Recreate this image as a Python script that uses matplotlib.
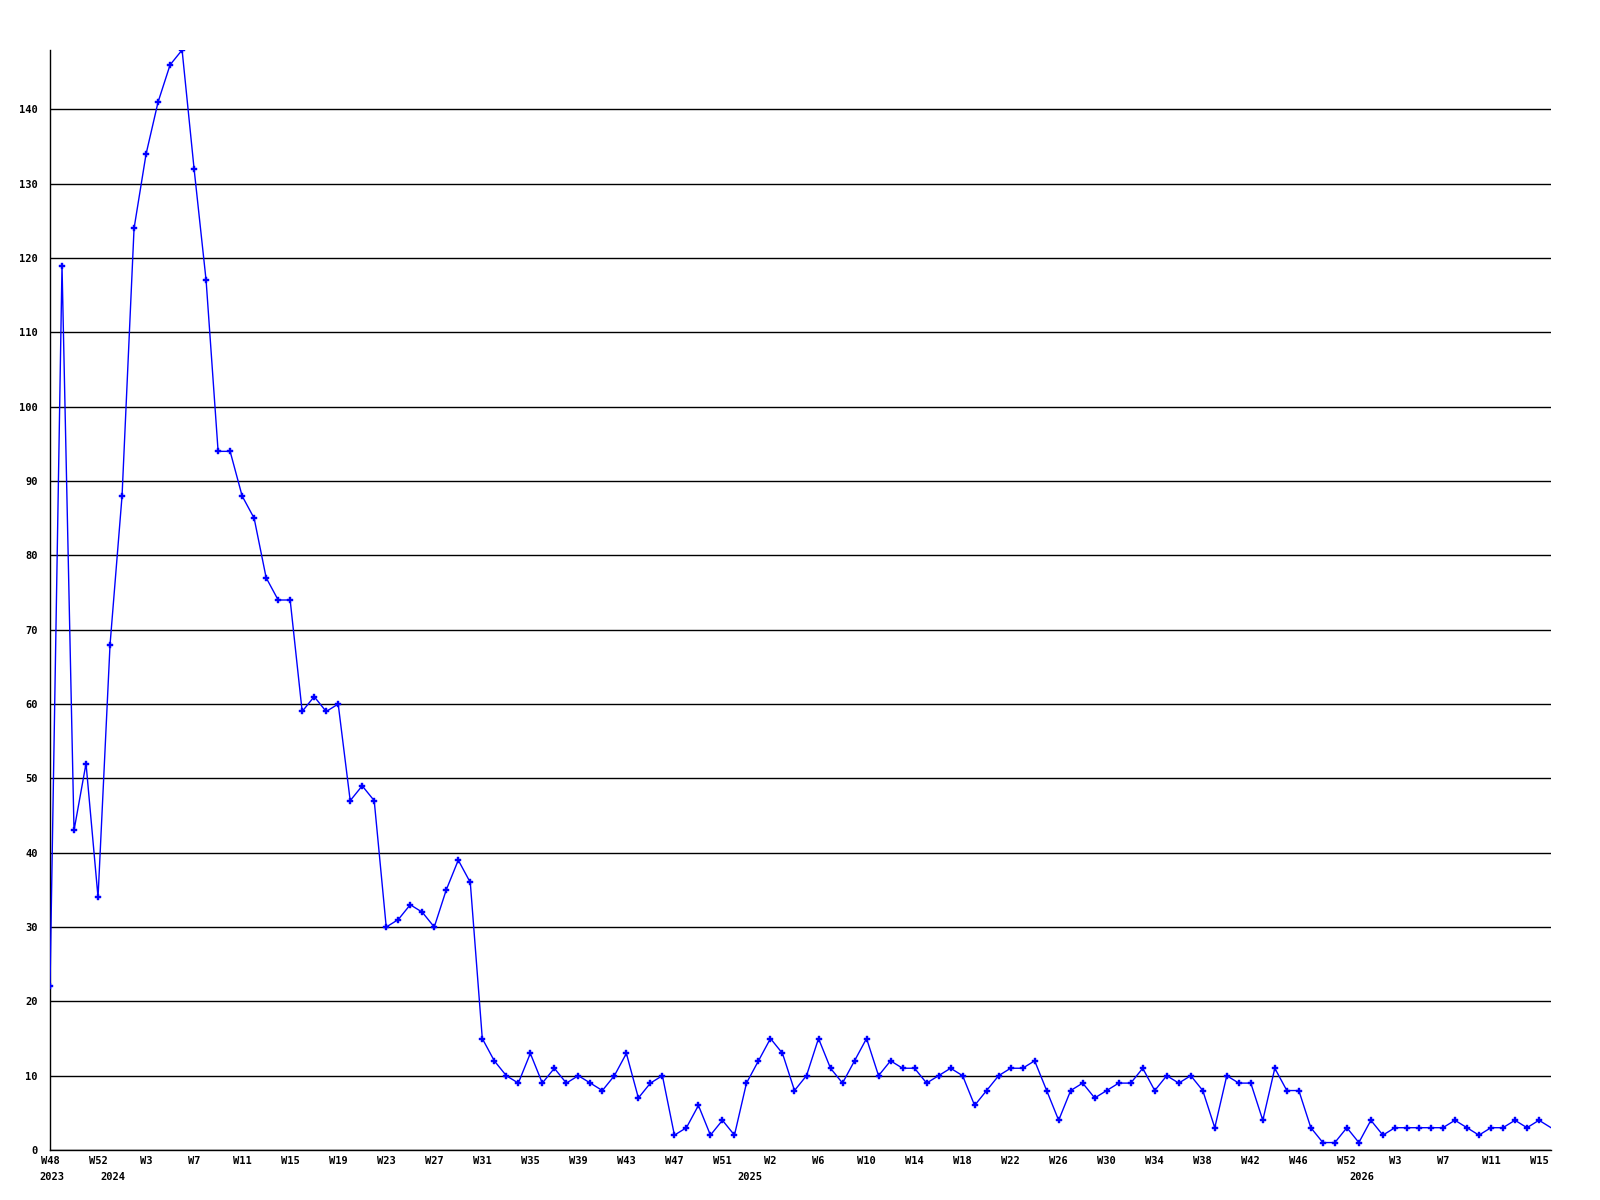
import matplotlib
matplotlib.use("Agg")
import matplotlib.pyplot as plt

# ---- data ----
values = [22, 119, 43, 52, 34, 68, 88, 124, 134, 141, 146, 148, 132, 117, 94, 94,
          88, 85, 77, 74, 74, 59, 61, 59, 60, 47, 49, 47, 30, 31, 33, 32,
          30, 35, 39, 36, 15, 12, 10, 9, 13, 9, 11, 9, 10, 9, 8, 10,
          13, 7, 9, 10, 2, 3, 6, 2, 4, 2, 9, 12, 15, 13, 8, 10,
          15, 11, 9, 12, 15, 10, 12, 11, 11, 9, 10, 11, 10, 6, 8, 10,
          11, 11, 12, 8, 4, 8, 9, 7, 8, 9, 9, 11, 8, 10, 9, 10,
          8, 3, 10, 9, 9, 4, 11, 8, 8, 3, 1, 1, 3, 1, 4, 2,
          3, 3, 3, 3, 3, 4, 3, 2, 3, 3, 4, 3, 4, 3]
week_labels = ["W48", "W52", "W3", "W7", "W11", "W15", "W19", "W23", "W27", "W31",
               "W35", "W39", "W43", "W47", "W51", "W2", "W6", "W10", "W14", "W18",
               "W22", "W26", "W30", "W34", "W38", "W42", "W46", "W52", "W3", "W7",
               "W11", "W15"]
week_label_idx = list(range(0, 125, 4))
year_labels = ["2023", "2024", "2025", "2026"]
year_label_idx = [0, 5, 58, 109]
y_ticks = list(range(0, 141, 10))

FONT = ["DejaVu Sans Mono"]

fig = plt.figure(figsize=(16, 12), dpi=100)
ax = fig.add_axes([50/1600, 1 - 1150/1200, (1551-50)/1600, 1100/1200])

x = list(range(len(values)))
ax.plot(x, values, color="#0000FF", linewidth=1.0, marker="P", markersize=5,
        markeredgewidth=0.3, markevery=list(range(len(values) - 1)), zorder=3)

ax.set_xlim(0, len(values) - 1)
ax.set_ylim(0, max(values))

ax.set_yticks(y_ticks)
ax.set_yticklabels([str(v) for v in y_ticks], fontfamily=FONT, fontweight="bold", fontsize=7.5)
ax.yaxis.grid(True, color="black", linewidth=1.0)
ax.set_axisbelow(True)

ax.set_xticks(week_label_idx)
ax.set_xticklabels(week_labels, fontfamily=FONT, fontweight="bold", fontsize=7.5)
ax.tick_params(axis="both", length=0)
ax.tick_params(axis="y", pad=9)
ax.tick_params(axis="x", pad=4)

for s in ["top", "right"]:
    ax.spines[s].set_visible(False)
for s in ["left", "bottom"]:
    ax.spines[s].set_color("black")
    ax.spines[s].set_linewidth(1.0)

for lab, idx in zip(year_labels, year_label_idx):
    ax.annotate(lab, xy=(idx, 0), xycoords=("data", "axes fraction"),
                xytext=(3 if idx else 2, -22), textcoords="offset pixels",
                ha="center", va="top", fontfamily=FONT, fontweight="bold", fontsize=7.5)

fig.savefig("out.png", dpi=100, facecolor="white")
